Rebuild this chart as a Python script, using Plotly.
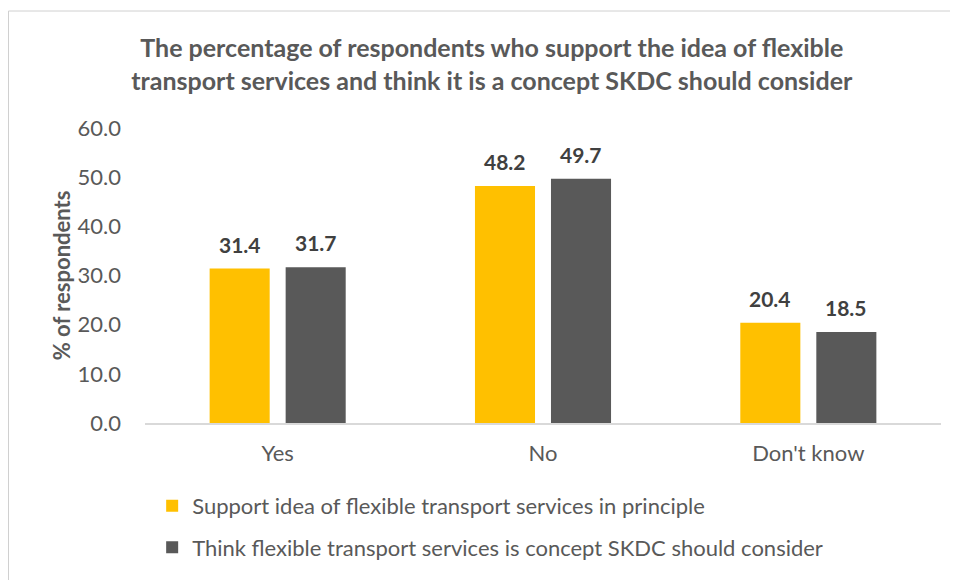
import plotly.graph_objects as go

categories = ["Yes", "No", "Don't know"]
support_principle = [31.4, 48.2, 20.4]
should_consider = [31.7, 49.7, 18.5]
series_names = [
    "Support idea of flexible transport services in principle",
    "Think flexible transport services is concept SKDC should consider",
]
colors = ["#FFC000", "#595959"]
y_ticks = [0, 10, 20, 30, 40, 50, 60]

FONT = "Lato"

fig = go.Figure()
for i, (name, vals) in enumerate(zip(series_names, [support_principle, should_consider])):
    fig.add_trace(go.Bar(
        x=categories, y=vals, name=name,
        marker=dict(color=colors[i], line=dict(width=0)),
        legendgroup=f"g{i}",
    ))
    for cat, v in zip(categories, vals):
        fig.add_annotation(
            x=cat, y=v, xref="x", yref="y", text=f"<b>{v:.1f}</b>",
            showarrow=False, yanchor="bottom", xshift=(-38 if i == 0 else 38), yshift=10,
            font=dict(family=FONT, size=21, color="#404040"),
        )

fig.update_layout(
    width=958, height=580,
    margin=dict(l=137, r=25, t=120, b=165),
    paper_bgcolor="white", plot_bgcolor="white",
    barmode="group", bargap=0.427, bargroupgap=0.21,
    font=dict(family=FONT, color="#595959", size=22),
    title=dict(
        text="<b>The percentage of respondents who support the idea of flexible<br>transport services and think it is a concept SKDC should consider</b>",
        x=0.505, xanchor="center", y=0.915, yanchor="middle",
        font=dict(family=FONT, size=25, color="#595959"),
    ),
    legend=dict(
        orientation="v", x=0.009, xanchor="left", y=-0.21, yanchor="top",
        font=dict(family=FONT, size=22, color="#595959"),
        tracegroupgap=10, bgcolor="rgba(0,0,0,0)",
    ),
    showlegend=True,
)
fig.update_xaxes(
    showline=True, linecolor="#D9D9D9", linewidth=1.5, showgrid=False,
    ticks="", ticklabelstandoff=10, tickfont=dict(family=FONT, size=22, color="#595959"),
)
fig.update_yaxes(
    range=[0, 60], tickvals=y_ticks, tickformat=".1f", showgrid=False,
    zeroline=False, showline=False, ticks="", ticklabelstandoff=23,
    tickfont=dict(family=FONT, size=22, color="#595959"),
    title=dict(text="<b>% of respondents</b>", font=dict(family=FONT, size=22, color="#595959"), standoff=0),
)
# chart border (light gray) along top and left edges
fig.add_shape(type="line", xref="paper", yref="paper", x0=-0.1715, x1=1.05, y0=1.3966, y1=1.3966,
              line=dict(color="#D0D0D0", width=1))
fig.add_shape(type="line", xref="paper", yref="paper", x0=-0.1715, x1=-0.1715, y0=-0.7, y1=1.3966,
              line=dict(color="#D0D0D0", width=1))

fig.write_html("out.html")
